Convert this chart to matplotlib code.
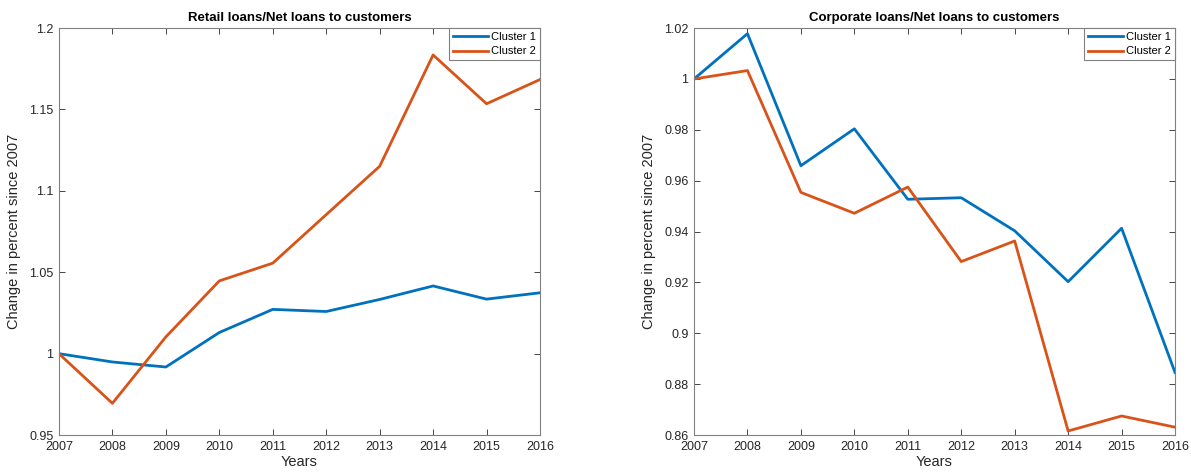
import matplotlib.pyplot as plt

plt.rcParams['font.family'] = ['Liberation Sans', 'DejaVu Sans']

years = [2007, 2008, 2009, 2010, 2011, 2012, 2013, 2014, 2015, 2016]

# Retail loans / net loans to customers
retail_c1 = [1.0, 0.9949, 0.9918, 1.0130, 1.0272, 1.0259, 1.0333, 1.0416, 1.0335, 1.0374]
retail_c2 = [1.0, 0.9695, 1.0103, 1.0447, 1.0556, 1.0854, 1.1151, 1.1835, 1.1535, 1.1684]

# Corporate loans / net loans to customers
corp_c1 = [1.0, 1.0178, 0.9659, 0.9804, 0.9527, 0.9533, 0.9403, 0.9203, 0.9413, 0.8846]
corp_c2 = [1.0, 1.0033, 0.9554, 0.9472, 0.9575, 0.9282, 0.9363, 0.8616, 0.8675, 0.8631]

titles = ['Retail loans/Net loans to customers', 'Corporate loans/Net loans to customers']
labels = ['Cluster 1', 'Cluster 2']

blue = '#0072BD'
orange = '#D95319'
axcol = '#262626'

fig = plt.figure(figsize=(11.91, 4.76), dpi=100)
ax1 = fig.add_axes([0.0495, 0.086, 0.4039, 0.855])
ax2 = fig.add_axes([0.5827, 0.086, 0.4039, 0.855])

panels = [
    (ax1, retail_c1, retail_c2, (0.95, 1.2), [0.95, 1.0, 1.05, 1.1, 1.15, 1.2], ['0.95', '1', '1.05', '1.1', '1.15', '1.2']),
    (ax2, corp_c1, corp_c2, (0.86, 1.02), [0.86, 0.88, 0.9, 0.92, 0.94, 0.96, 0.98, 1.0, 1.02],
     ['0.86', '0.88', '0.9', '0.92', '0.94', '0.96', '0.98', '1', '1.02']),
]

for i, (ax, c1, c2, ylim, yt, ytl) in enumerate(panels):
    ax.plot(years, c1, color=blue, lw=2, label=labels[0])
    ax.plot(years, c2, color=orange, lw=2, label=labels[1])
    ax.set_xlim(2007, 2016)
    ax.set_ylim(*ylim)
    ax.set_xticks(years)
    ax.set_xticklabels([str(y) for y in years])
    ax.set_yticks(yt)
    ax.set_yticklabels(ytl)
    ax.tick_params(direction='in', top=True, right=True, length=4, width=0.6,
                   colors=axcol, labelsize=9, pad=4)
    for s in ax.spines.values():
        s.set_color('#808080')
        s.set_linewidth(0.8)
    ax.set_title(titles[i], fontsize=9.5, fontweight='bold', color='black', pad=5)
    ax.set_xlabel('Years', fontsize=10.5, color=axcol, labelpad=2)
    ax.set_ylabel('Change in percent since 2007', fontsize=10.5, color=axcol, labelpad=6)
    leg = ax.legend(loc='upper right', fontsize=8, fancybox=False, framealpha=1,
                    borderaxespad=0, handlelength=3.2, handletextpad=0.25,
                    borderpad=0.35, labelspacing=0.4)
    leg.get_frame().set_edgecolor('#808080')
    leg.get_frame().set_linewidth(0.8)

fig.savefig('out.png', dpi=100)
